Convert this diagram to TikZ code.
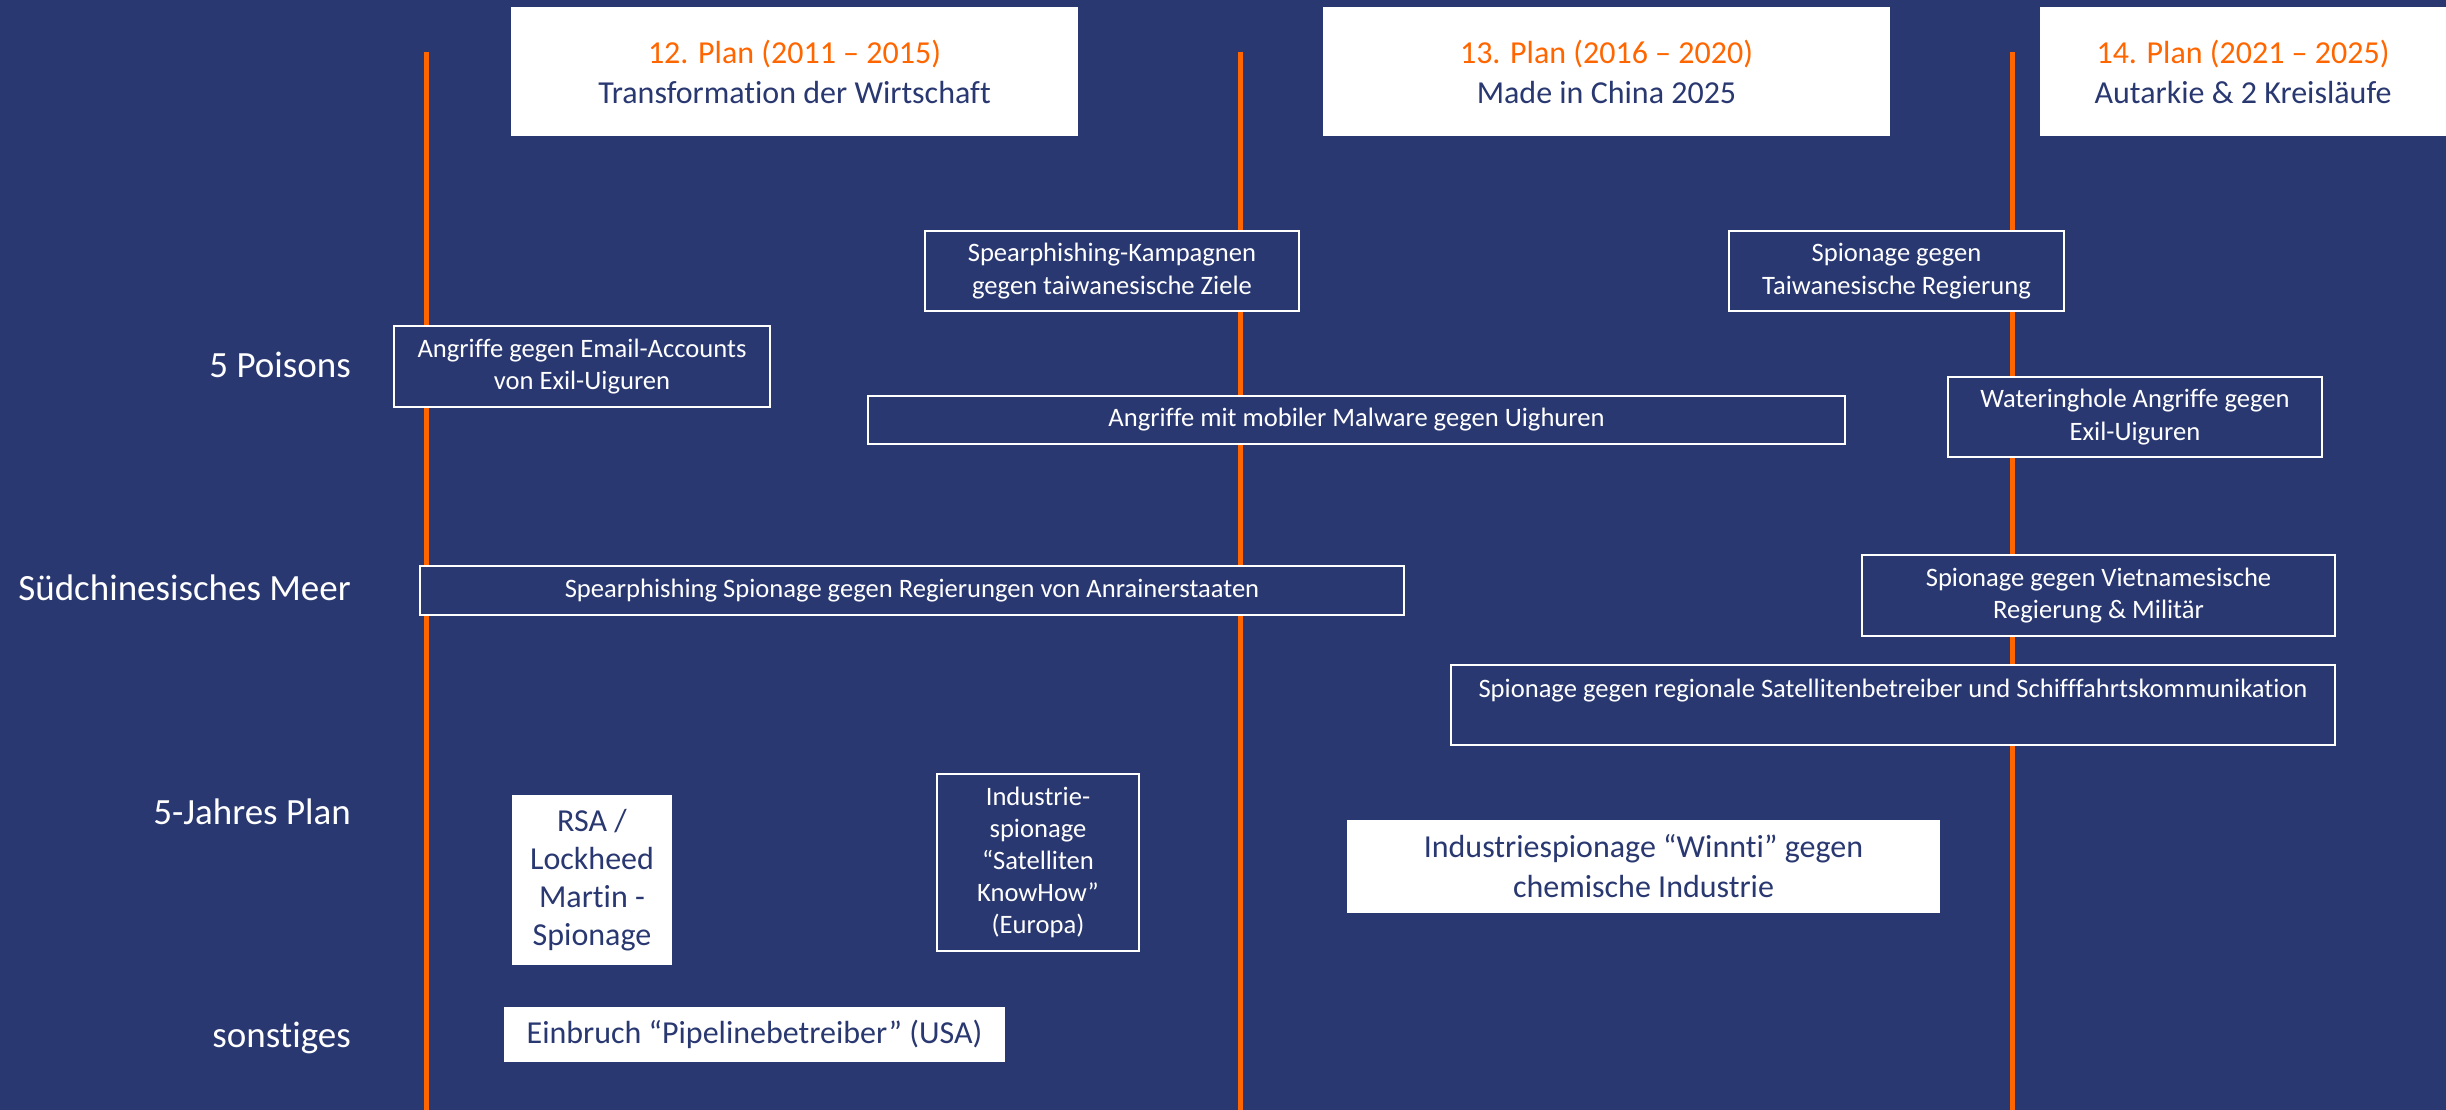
\documentclass[tikz,border=0pt]{standalone}
\usepackage{fontspec}
\setmainfont{Carlito}[Ligatures=NoCommon]
\definecolor{bgnavy}{RGB}{41,56,113}
\definecolor{planorange}{RGB}{255,102,0}
\tikzset{
  evbox/.style={draw=white, line width=2.5pt, fill=bgnavy, text=white, align=center, inner sep=0pt, outer sep=0pt,
    font=\fontsize{26.6}{32.5}\selectfont},
  whitebox/.style={fill=white, text=bgnavy, align=center, inner sep=0pt, outer sep=0pt,
    font=\fontsize{32}{39}\selectfont},
  rowlabel/.style={text=white, anchor=base east, inner sep=0pt, font=\fontsize{37}{45}\selectfont},
  timeline/.style={draw=planorange, line width=5pt}
}
\begin{document}
\begin{tikzpicture}[x=1pt,y=-1pt]
\fill[bgnavy] (0,0) rectangle (2446,1110);
\useasboundingbox (0,0) rectangle (2446,1110);

% timeline coordinates
\coordinate (l1top) at (426,52);  \coordinate (l1bot) at (426,1110);
\coordinate (l2top) at (1240,52); \coordinate (l2bot) at (1240,1110);
\coordinate (l3top) at (2012,52); \coordinate (l3bot) at (2012,1110);
\draw[timeline] (l1top) -- (l1bot);
\draw[timeline] (l2top) -- (l2bot);
\draw[timeline] (l3top) -- (l3bot);

% headers
\node[whitebox, minimum width=567, minimum height=129, font=\fontsize{32}{40}\selectfont] (h1) at (794.5,71.5)
  {\textcolor{planorange}{12. Plan (2011 – 2015)}\\Transformation der Wirtschaft};
\node[whitebox, minimum width=567, minimum height=129, font=\fontsize{32}{40}\selectfont] (h2) at (1606.5,71.5)
  {\textcolor{planorange}{13. Plan (2016 – 2020)}\\Made in China 2025};
\node[whitebox, minimum width=406, minimum height=129, font=\fontsize{32}{40}\selectfont] (h3) at (2243,71.5)
  {\textcolor{planorange}{14. Plan (2021 – 2025)}\\Autarkie \& 2 Kreisläufe};

% row labels
\node[rowlabel] (r1) at (351,377) {5 Poisons};
\node[rowlabel] (r2) at (351,600) {Südchinesisches Meer};
\node[rowlabel] (r3) at (351,824) {5-Jahres Plan};
\node[rowlabel] (r4) at (351,1047) {sonstiges};

% events
\node[evbox, minimum width=376, minimum height=81] (e1) at (582,366.5)
  {Angriffe gegen Email-Accounts\\von Exil-Uiguren};
\node[evbox, minimum width=374, minimum height=80] (e2) at (1112,271)
  {Spearphishing-Kampagnen\\gegen taiwanesische Ziele};
\node[evbox, minimum width=335, minimum height=80] (e3) at (1896.5,271)
  {Spionage gegen\\Taiwanesische Regierung};
\node[evbox, minimum width=977, minimum height=48] (e4) at (1356.5,420)
  {Angriffe mit mobiler Malware gegen Uighuren};
\node[evbox, minimum width=374, minimum height=80] (e5) at (2135,417)
  {Wateringhole Angriffe gegen\\Exil-Uiguren};
\node[evbox, minimum width=984, minimum height=49] (e6) at (912,590.5)
  {Spearphishing Spionage gegen Regierungen von Anrainerstaaten};
\node[evbox, minimum width=473, minimum height=81] (e7) at (2098.5,595.5)
  {Spionage gegen Vietnamesische\\Regierung \& Militär};
\node[evbox, minimum width=884, minimum height=80] (e8) at (1893,705)
  {Spionage gegen regionale Satellitenbetreiber und Schifffahrtskommunikation\\~};
\node[whitebox, minimum width=160, minimum height=170, font=\fontsize{32}{38}\selectfont] (e9) at (592,880)
  {RSA /\\Lockheed\\Martin -\\Spionage};
\node[evbox, minimum width=202, minimum height=177, font=\fontsize{26.6}{32}\selectfont] (e10) at (1038,862.5)
  {Industrie-\\spionage\\“Satelliten\\KnowHow”\\(Europa)};
\node[whitebox, minimum width=593, minimum height=93, font=\fontsize{32}{40}\selectfont] (e11) at (1643.5,866.5)
  {Industriespionage “Winnti” gegen\\chemische Industrie};
\node[whitebox, minimum width=501, minimum height=55] (e12) at (754.5,1034.5)
  {Einbruch “Pipelinebetreiber” (USA)};
\end{tikzpicture}
\end{document}
